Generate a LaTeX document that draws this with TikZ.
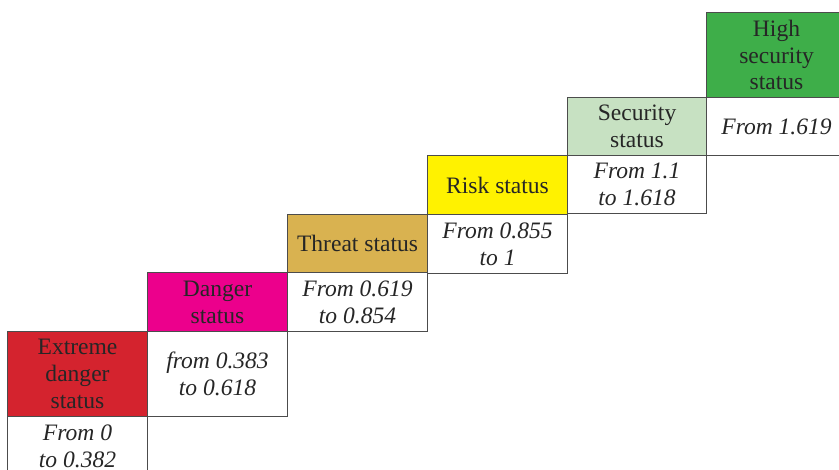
\documentclass[tikz,border=0pt]{standalone}
\usepackage{fontspec}
\setmainfont{Liberation Serif}
\usepackage{xcolor}

\definecolor{extremered}{RGB}{212,35,46}
\definecolor{dangerpink}{RGB}{236,0,140}
\definecolor{threattan}{RGB}{217,178,80}
\definecolor{riskyellow}{RGB}{255,242,0}
\definecolor{securegreen}{RGB}{199,225,194}
\definecolor{highgreen}{RGB}{62,174,73}

\tikzset{
    cell/.style={draw=black!70, line width=0.6pt, minimum width=2.8cm,
        inner sep=0pt, align=center, anchor=north west, text=black!85,
        font=\fontsize{13.4}{15.3}\selectfont},
    valcell/.style={cell, fill=white, font=\fontsize{13.4}{15.3}\selectfont\itshape}
}

\begin{document}
\begin{tikzpicture}
        % Frame of the picture
        \useasboundingbox (0,0) rectangle (16.78,-9.38);
        \clip (0,0) rectangle (16.78,-9.38);
        % Status steps
        \node[cell, fill=extremered, minimum height=1.70cm] (extreme) at (0.14,-6.62) {Extreme\\danger\\status};
        \node[cell, fill=dangerpink, minimum height=1.18cm] (danger) at (2.94,-5.44) {Danger\\status};
        \node[cell, fill=threattan, minimum height=1.16cm] (threat) at (5.74,-4.28) {Threat status};
        \node[cell, fill=riskyellow, minimum height=1.18cm] (risk) at (8.54,-3.10) {Risk status};
        \node[cell, fill=securegreen, minimum height=1.16cm, minimum width=2.78cm] (security) at (11.34,-1.94) {Security\\status};
        \node[cell, fill=highgreen, minimum height=1.70cm] (highsec) at (14.12,-0.24) {High\\security\\status};
        % Value ranges
        \node[valcell, minimum height=1.20cm] (extremeval) at (0.14,-8.32) {From 0\\to 0.382};
        \node[valcell, minimum height=1.70cm] (dangerval) at (2.94,-6.62) {from 0.383\\to 0.618};
        \node[valcell, minimum height=1.18cm] (threatval) at (5.74,-5.44) {From 0.619\\to 0.854};
        \node[valcell, minimum height=1.18cm] (riskval) at (8.54,-4.28) {From 0.855\\to 1};
        \node[valcell, minimum height=1.16cm, minimum width=2.78cm] (securityval) at (11.34,-3.10) {From 1.1\\to 1.618};
        \node[valcell, minimum height=1.16cm] (highsecval) at (14.12,-1.94) {From 1.619};
    \end{tikzpicture}
\end{document}
